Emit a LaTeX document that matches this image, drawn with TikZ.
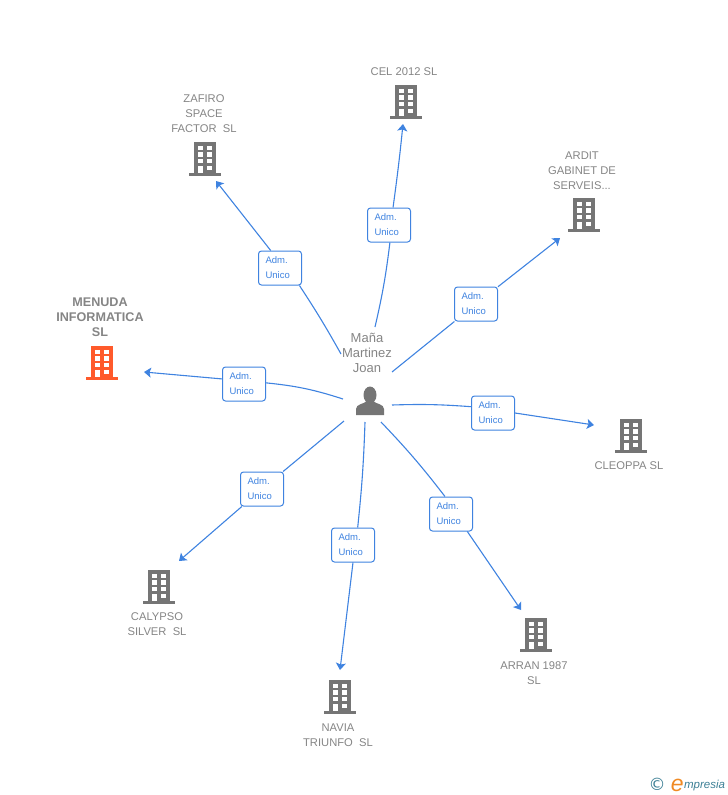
\documentclass[tikz,border=0pt]{standalone}
\usepackage{fontspec}
\setmainfont{Liberation Sans}
\newfontfamily\symfont{DejaVu Sans}
\usetikzlibrary{positioning,arrows.meta}
\definecolor{linkblue}{HTML}{3F83E0}
\definecolor{icongray}{HTML}{757575}
\definecolor{textgray}{HTML}{858585}
\definecolor{hotred}{HTML}{FF5A2B}
\definecolor{logoteal}{HTML}{3C7F95}
\definecolor{logoorange}{HTML}{F08A24}
\tikzset{
  bldg/.style={rectangle, inner sep=0pt, minimum width=33pt, minimum height=36pt,
    path picture={
      \begin{scope}[shift={(path picture bounding box.center)}]
        \fill[#1] (-11,-17) rectangle (11,15);
        \fill[#1] (-16,14) rectangle (16,17);
        \foreach \wx in {-7.4,2} \foreach \wy in {-13.2,-6.6,0}
          \fill[white] (\wx,\wy) rectangle ++(5.4,4.4);
        \fill[white] (-7.4,6.6) rectangle ++(5.4,7.6);
        \fill[white] (2,6.6) rectangle ++(5.4,4.4);
      \end{scope}
    }},
  person/.style={rectangle, inner sep=0pt, minimum width=30pt, minimum height=32pt,
    path picture={
      \begin{scope}[shift={(path picture bounding box.center)}]
        \fill[icongray] (0,-6) ellipse (6.5 and 8.5);
        \fill[icongray] (-14,14) -- (-14,8) .. controls (-14,3) and (-6,3) .. (-3,0)
          -- (3,0) .. controls (6,3) and (14,3) .. (14,8) -- (14,14) -- cycle;
      \end{scope}
    }},
  firm/.style={inner sep=0pt, align=center, text=textgray, font=\fontsize{11.2}{15}\selectfont},
  hotfirm/.style={inner sep=0pt, align=center, text=textgray, font=\fontsize{12.6}{15}\selectfont\bfseries},
  who/.style={inner sep=0pt, align=center, text=textgray, font=\fontsize{13}{15}\selectfont},
  adm/.style={draw=linkblue, fill=white, rounded corners=3pt, line width=1pt, text=linkblue,
    minimum width=43pt, minimum height=34pt, inner xsep=0pt, inner ysep=0pt, text width=29pt, align=left,
    font=\fontsize{9.5}{13}\selectfont, execute at begin node={\vspace*{2pt}}},
  link/.style={draw=linkblue, line width=1.1pt},
  tolink/.style={link, -{Stealth[length=7pt,width=10pt,inset=1.5pt]}}
}
\begin{document}
\begin{tikzpicture}[x=1pt,y=-1pt]
  \useasboundingbox (0,0) rectangle (728,795);

  % Centre
  \node[person] (joan) at (370,401) {};
  \node[who, above=12pt of joan, xshift=-3pt] (joan_txt) {Maña\\Martinez\\Joan};

  % Firms
  \node[bldg=hotred] (menuda) at (102,363) {};
  \node[hotfirm, above=8pt of menuda, xshift=-2pt] (menuda_txt) {MENUDA\\INFORMATICA\\SL};
  \node[bldg=icongray] (zafiro) at (205,159) {};
  \node[firm, above=8pt of zafiro, xshift=-1pt] (zafiro_txt) {ZAFIRO\\SPACE\\FACTOR\ \ SL};
  \node[bldg=icongray] (cel) at (406,102) {};
  \node[firm, above=8pt of cel, xshift=-2pt] (cel_txt) {CEL 2012 SL};
  \node[bldg=icongray] (ardit) at (584,215) {};
  \node[firm, above=7pt of ardit, xshift=-2pt] (ardit_txt) {ARDIT\\GABINET DE\\SERVEIS...};
  \node[bldg=icongray] (cleoppa) at (631,436) {};
  \node[firm, below=7pt of cleoppa, xshift=-2pt] (cleoppa_txt) {CLEOPPA SL};
  \node[bldg=icongray] (arran) at (536,635) {};
  \node[firm, below=8pt of arran, xshift=-2pt] (arran_txt) {ARRAN 1987\\SL};
  \node[bldg=icongray] (navia) at (340,697) {};
  \node[firm, below=8pt of navia, xshift=-2pt] (navia_txt) {NAVIA\\TRIUNFO\ \ SL};
  \node[bldg=icongray] (calypso) at (159,587) {};
  \node[firm, below=7pt of calypso, xshift=-2pt] (calypso_txt) {CALYPSO\\SILVER\ \ SL};

  % Free ends
  \coordinate (menuda_a) at (343,399);  \coordinate (menuda_b) at (144,372);
  \coordinate (zafiro_a) at (341,354);  \coordinate (zafiro_b) at (216,181);
  \coordinate (cel_a) at (375,327);     \coordinate (cel_b) at (403,124);
  \coordinate (ardit_a) at (392,372);   \coordinate (ardit_b) at (560,238);
  \coordinate (cleoppa_a) at (392,405); \coordinate (cleoppa_b) at (594,425);
  \coordinate (arran_a) at (381,422);   \coordinate (arran_b) at (521,610);
  \coordinate (navia_a) at (365,422);   \coordinate (navia_b) at (340,670);
  \coordinate (calypso_a) at (344,421); \coordinate (calypso_b) at (179,561);

  % Adm. boxes
  \node[adm] (adm_menuda) at (244,384) {Adm.\\Unico};
  \node[adm] (adm_zafiro) at (280,268) {Adm.\\Unico};
  \node[adm] (adm_cel) at (389,225) {Adm.\\Unico};
  \node[adm] (adm_ardit) at (476,304) {Adm.\\Unico};
  \node[adm] (adm_cleoppa) at (493,413) {Adm.\\Unico};
  \node[adm] (adm_arran) at (451,514) {Adm.\\Unico};
  \node[adm] (adm_navia) at (353,545) {Adm.\\Unico};
  \node[adm] (adm_calypso) at (262,489) {Adm.\\Unico};

  % Links
  \draw[link] (menuda_a) to[bend right=6] (adm_menuda.3);
  \draw[tolink] (adm_menuda.167) -- (menuda_b);
  \draw[link] (zafiro_a) to[bend right=2] (adm_zafiro.-42);
  \draw[tolink] (adm_zafiro.118) -- (zafiro_b);
  \draw[link] (cel_a) to[bend right=3] (adm_cel.-87);
  \draw[tolink] (adm_cel.77) to[bend right=1] (cel_b);
  \draw[link] (ardit_a) -- (adm_ardit);
  \draw[tolink] (adm_ardit) -- (ardit_b);
  \draw[link] (cleoppa_a) to[bend left=3] (adm_cleoppa.164);
  \draw[tolink] (adm_cleoppa.0) -- (cleoppa_b);
  \draw[link] (arran_a) to[bend left=3] (adm_arran.109);
  \draw[tolink] (adm_arran.-47) -- (arran_b);
  \draw[link] (navia_a) to[bend left=2] (adm_navia.75);
  \draw[tolink] (adm_navia.-90) -- (navia_b);
  \draw[link] (calypso_a) -- (adm_calypso);
  \draw[tolink] (adm_calypso) -- (calypso_b);

  % Logo
  \node[inner sep=0pt, text=logoteal, font=\symfont\fontsize{17}{17}\selectfont] (logo_c) at (657,784) {©};
  \node[inner sep=0pt, text=logoorange, font=\itshape\fontsize{23}{23}\selectfont, right=5pt of logo_c, yshift=-1pt] (logo_e) {e};
  \node[inner sep=0pt, text=logoteal, font=\itshape\fontsize{11.5}{15}\selectfont, right=0pt of logo_e, yshift=-1pt] (logo_t) {mpresia};
\end{tikzpicture}
\end{document}
